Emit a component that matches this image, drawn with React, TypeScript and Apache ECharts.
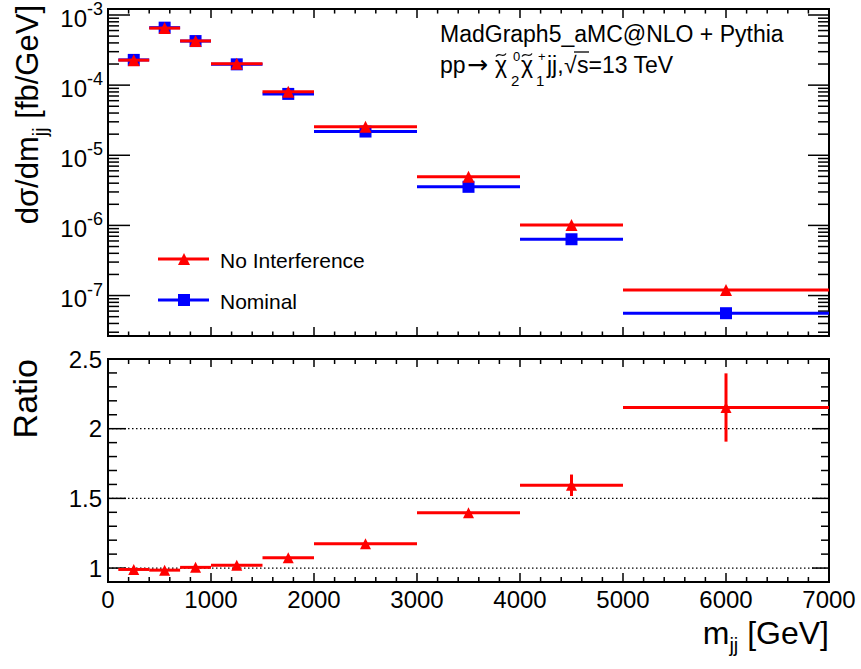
import React, { useEffect, useRef } from 'react';
import * as echarts from 'echarts';

// ---------------- data ----------------
const binLow = [100, 400, 700, 1000, 1500, 2000, 3000, 4000, 5000];
const binHigh = [400, 700, 1000, 1500, 2000, 3000, 4000, 5000, 7000];
const nominal = [2.29e-4, 6.6e-4, 4.25e-4, 1.98e-4, 7.5e-5, 2.18e-5, 3.55e-6, 6.35e-7, 5.6e-8];
const noInterference = [2.27e-4, 6.5e-4, 4.27e-4, 2.02e-4, 8.05e-5, 2.56e-5, 4.96e-6, 1.01e-6, 1.2e-7];
const ratio = [0.99, 0.985, 1.005, 1.02, 1.074, 1.175, 1.396, 1.594, 2.152];
const ratioErr = [0.004, 0.005, 0.006, 0.007, 0.009, 0.012, 0.02, 0.077, 0.245];
const ratioTickLabels = ['1', '1.5', '2', '2.5'];
const ratioGridLines = [1, 1.5, 2];
const seriesNames = ['No Interference', 'Nominal'];

// axis ranges
const X_MIN = 0;
const X_MAX = 7000;
const TOP_MIN = 2.65e-8;
const TOP_MAX = 1.215e-3;
const R_MIN = 0.9;
const R_MAX = 2.5;

const FONT = 'Liberation Sans, Arial, Helvetica, sans-serif';
const RED = '#ff0000';
const BLUE = '#0000ff';

// ---------------- tick descriptors ----------------
// [x, y, dir, len]  dir: 0 bottom(up) 1 top(down) 2 left(right) 3 right(left) 4 dotted grid line
function buildTopTicks() {
  const t: number[][] = [];
  for (let x = X_MIN; x <= X_MAX; x += 200) {
    const major = x % 1000 === 0;
    t.push([x, TOP_MIN, 0, major ? 9 : 4.5]);
    t.push([x, TOP_MAX, 1, major ? 9 : 4.5]);
  }
  for (let d = -9; d <= -2; d++) {
    for (let m = 1; m <= 9; m++) {
      const v = m * Math.pow(10, d);
      if (v <= TOP_MIN || v >= TOP_MAX) continue;
      const major = m === 1;
      t.push([X_MIN, v, 2, major ? 22 : 11]);
      t.push([X_MAX, v, 3, major ? 21 : 11]);
    }
  }
  return t;
}
function buildRatioTicks() {
  const t: number[][] = [];
  ratioGridLines.forEach((v) => t.push([X_MIN, v, 4, 0]));
  for (let x = X_MIN; x <= X_MAX; x += 200) {
    const major = x % 1000 === 0;
    t.push([x, R_MIN, 0, major ? 9 : 5]);
    t.push([x, R_MAX, 1, major ? 8 : 5]);
  }
  for (let k = 10; k <= 25; k++) {
    const v = k / 10;
    const major = k % 5 === 0;
    t.push([X_MIN, v, 2, major ? 18 : 9]);
    t.push([X_MAX, v, 3, major ? 17 : 8]);
  }
  return t;
}

function tickRender(params: any, api: any) {
  const x = api.value(0);
  const y = api.value(1);
  const dir = api.value(2);
  const len = api.value(3);
  const p = api.coord([x, y]);
  if (dir === 4) {
    const p2 = api.coord([X_MAX, y]);
    return {
      type: 'line',
      shape: { x1: p[0], y1: p[1], x2: p2[0], y2: p2[1] },
      style: { stroke: '#000', lineWidth: 1.2, lineDash: [1.5, 2.5] },
    };
  }
  let x2 = p[0];
  let y2 = p[1];
  if (dir === 0) y2 = p[1] - len;
  else if (dir === 1) y2 = p[1] + len;
  else if (dir === 2) x2 = p[0] + len;
  else x2 = p[0] - len;
  return {
    type: 'line',
    shape: { x1: p[0], y1: p[1], x2, y2 },
    style: { stroke: '#000', lineWidth: 1.5 },
  };
}

function barRender(color: string) {
  return (params: any, api: any) => {
    const lo = api.value(0);
    const hi = api.value(1);
    const v = api.value(2);
    const e = api.value(3);
    const a = api.coord([lo, v]);
    const b = api.coord([hi, v]);
    const children: any[] = [
      {
        type: 'line',
        shape: { x1: a[0], y1: a[1], x2: b[0], y2: b[1] },
        style: { stroke: color, lineWidth: 3 },
      },
    ];
    if (e > 0) {
      const c = (lo + hi) / 2;
      const p1 = api.coord([c, v - e]);
      const p2 = api.coord([c, v + e]);
      children.push({
        type: 'line',
        shape: { x1: p1[0], y1: p1[1], x2: p2[0], y2: p2[1] },
        style: { stroke: color, lineWidth: 3 },
      });
    }
    return { type: 'group', children };
  };
}

const centers = binLow.map((lo, i) => (lo + binHigh[i]) / 2);

function txt(x: number, y: number, text: string, fontSize: number, family = FONT) {
  return { type: 'text', x, y, style: { text, fontSize, fontFamily: family, fill: '#000', verticalAlign: 'middle' } };
}
function tilde(x: number, y: number) {
  return {
    type: 'bezierCurve',
    shape: { x1: x, y1: y + 1.5, cpx1: x + 3.5, cpy1: y - 4, cpx2: x + 6.5, cpy2: y + 4, x2: x + 10, y2: y - 1.5 },
    style: { stroke: '#000', lineWidth: 1.3, fill: 'none' },
  };
}

function makeOption(): any {
  const logLabel = (v: number) => {
    const n = Math.log10(v);
    const r = Math.round(n);
    if (Math.abs(n - r) > 1e-6) return '';
    return `{b|10}{e|${r}}`;
  };
  const ratioLabel = (v: number) => {
    const s = String(Math.round(v * 10) / 10);
    return ratioTickLabels.indexOf(s) >= 0 && Math.abs(v * 2 - Math.round(v * 2)) < 1e-6 ? s : '';
  };

  return {
    animation: false,
    backgroundColor: '#fff',
    textStyle: { fontFamily: FONT },
    grid: [
      { left: 108, top: 5, width: 721, height: 331, show: true, borderColor: '#000', borderWidth: 2, backgroundColor: 'transparent' },
      { left: 108, top: 359, width: 721, height: 223, show: true, borderColor: '#000', borderWidth: 2, backgroundColor: 'transparent' },
    ],
    xAxis: [
      {
        gridIndex: 0, type: 'value', min: X_MIN, max: X_MAX, interval: 1000,
        axisLine: { show: false }, axisTick: { show: false }, splitLine: { show: false },
        axisLabel: { show: false },
      },
      {
        gridIndex: 1, type: 'value', min: X_MIN, max: X_MAX, interval: 1000,
        axisLine: { show: false }, axisTick: { show: false }, splitLine: { show: false },
        axisLabel: {
          show: true, fontSize: 24, color: '#000', fontFamily: FONT, margin: 5,
          formatter: (v: number) => String(Math.round(v)),
        },
      },
    ],
    yAxis: [
      {
        gridIndex: 0, type: 'log', logBase: 10, min: TOP_MIN, max: TOP_MAX,
        axisLine: { show: false }, axisTick: { show: false }, splitLine: { show: false },
        axisLabel: {
          show: true, margin: 5, formatter: logLabel,
          rich: {
            b: { fontSize: 24, fontFamily: FONT, color: '#000', lineHeight: 30, verticalAlign: 'bottom' },
            e: { fontSize: 18, fontFamily: FONT, color: '#000', lineHeight: 18, verticalAlign: 'top' },
          },
        },
      },
      {
        gridIndex: 1, type: 'value', min: R_MIN, max: R_MAX, interval: 0.1,
        axisLine: { show: false }, axisTick: { show: false }, splitLine: { show: false },
        axisLabel: { show: true, margin: 6, fontSize: 24, color: '#000', fontFamily: FONT, formatter: ratioLabel },
      },
    ],
    series: [
      {
        type: 'custom', name: 'ticksTop', xAxisIndex: 0, yAxisIndex: 0, silent: true,
        renderItem: tickRender, data: buildTopTicks(), encode: { x: 0, y: 1 }, z: 1,
      },
      {
        type: 'custom', name: 'ticksRatio', xAxisIndex: 1, yAxisIndex: 1, silent: true,
        renderItem: tickRender, data: buildRatioTicks(), encode: { x: 0, y: 1 }, z: 1,
      },
      {
        type: 'custom', name: seriesNames[1] + ' bins', xAxisIndex: 0, yAxisIndex: 0, silent: true,
        renderItem: barRender(BLUE),
        data: nominal.map((v, i) => [binLow[i], binHigh[i], v, 0]),
        encode: { x: [0, 1], y: 2 }, z: 3,
      },
      {
        type: 'scatter', name: seriesNames[1], xAxisIndex: 0, yAxisIndex: 0, silent: true,
        symbol: 'rect', symbolSize: 12, itemStyle: { color: BLUE, opacity: 1 },
        data: nominal.map((v, i) => [centers[i], v]), z: 4,
      },
      {
        type: 'custom', name: seriesNames[0] + ' bins', xAxisIndex: 0, yAxisIndex: 0, silent: true,
        renderItem: barRender(RED),
        data: noInterference.map((v, i) => [binLow[i], binHigh[i], v, 0]),
        encode: { x: [0, 1], y: 2 }, z: 5,
      },
      {
        type: 'scatter', name: seriesNames[0], xAxisIndex: 0, yAxisIndex: 0, silent: true,
        symbol: 'triangle', symbolSize: 12, itemStyle: { color: RED, opacity: 1 },
        data: noInterference.map((v, i) => [centers[i], v]), z: 6,
      },
      {
        type: 'custom', name: 'Ratio bins', xAxisIndex: 1, yAxisIndex: 1, silent: true,
        renderItem: barRender(RED),
        data: ratio.map((v, i) => [binLow[i], binHigh[i], v, ratioErr[i]]),
        encode: { x: [0, 1], y: 2 }, z: 5,
      },
      {
        type: 'scatter', name: 'Ratio', xAxisIndex: 1, yAxisIndex: 1, silent: true,
        symbol: 'triangle', symbolSize: 11, itemStyle: { color: RED, opacity: 1 },
        data: ratio.map((v, i) => [centers[i], v]), z: 6,
      },
    ],
    graphic: [
      // y title (top)
      {
        type: 'text', x: 12, y: 5, rotation: Math.PI / 2, silent: true,
        style: {
          text: '{a|dσ/dm}{s|jj}{a| [fb/GeV]}', align: 'right', verticalAlign: 'top',
          rich: {
            a: { fontSize: 31, fontFamily: FONT, fill: '#000', lineHeight: 38, verticalAlign: 'top' },
            s: { fontSize: 20, fontFamily: FONT, fill: '#000', lineHeight: 18, verticalAlign: 'bottom' },
          },
        },
      },
      // ratio title
      {
        type: 'text', x: 5, y: 359, rotation: Math.PI / 2, silent: true,
        style: { text: 'Ratio', align: 'right', verticalAlign: 'top', fontSize: 34, fontFamily: FONT, fill: '#000', lineHeight: 40 },
      },
      // x title
      {
        type: 'text', x: 829, y: 617, silent: true,
        style: {
          text: '{a|m}{s|jj}{a| [GeV]}', align: 'right', verticalAlign: 'top',
          rich: {
            a: { fontSize: 32, fontFamily: FONT, fill: '#000', lineHeight: 38, verticalAlign: 'top' },
            s: { fontSize: 20, fontFamily: FONT, fill: '#000', lineHeight: 18, verticalAlign: 'bottom' },
          },
        },
      },
      // header text
      { ...txt(440, 34, 'MadGraph5_aMC@NLO + Pythia', 23), silent: true },
      {
        type: 'group', silent: true,
        children: [
          txt(440, 65, 'pp', 23),
          txt(467, 64, '→', 25, 'DejaVu Sans, sans-serif'),
          txt(495, 65, 'χ', 23),
          tilde(496, 55),
          txt(513, 56, '0', 13),
          txt(511, 80, '2', 15),
          txt(521, 65, 'χ', 23),
          tilde(522, 55),
          txt(538, 56, '+', 13),
          txt(536, 80, '1', 15),
          txt(547, 65, 'jj,', 23),
          txt(564, 65, '√', 23),
          { type: 'line', shape: { x1: 574, y1: 52, x2: 589, y2: 52 }, style: { stroke: '#000', lineWidth: 1.3 } },
          txt(577, 65, 's=13 TeV', 23),
        ],
      },
      // legend
      {
        type: 'group', silent: true,
        children: [
          { type: 'line', shape: { x1: 158, y1: 259, x2: 209, y2: 259 }, style: { stroke: RED, lineWidth: 3 } },
          { type: 'polygon', shape: { points: [[184, 253], [190, 265], [178, 265]] }, style: { fill: RED } },
          txt(220, 260, seriesNames[0], 21),
          { type: 'line', shape: { x1: 158, y1: 300, x2: 209, y2: 300 }, style: { stroke: BLUE, lineWidth: 3 } },
          { type: 'rect', shape: { x: 178, y: 294, width: 12, height: 12 }, style: { fill: BLUE } },
          txt(220, 301, seriesNames[1], 21),
        ],
      },
    ],
  };
}

export default function App() {
  const ref = useRef<HTMLDivElement>(null);
  useEffect(() => {
    if (!ref.current) return;
    const chart = echarts.init(ref.current, null, { renderer: 'svg' });
    chart.setOption(makeOption());
    return () => {
      chart.dispose();
    };
  }, []);
  return (
    <div
      ref={ref}
      style={{ position: 'fixed', left: 0, top: 0, width: 861, height: 669, background: '#fff' }}
    />
  );
}
